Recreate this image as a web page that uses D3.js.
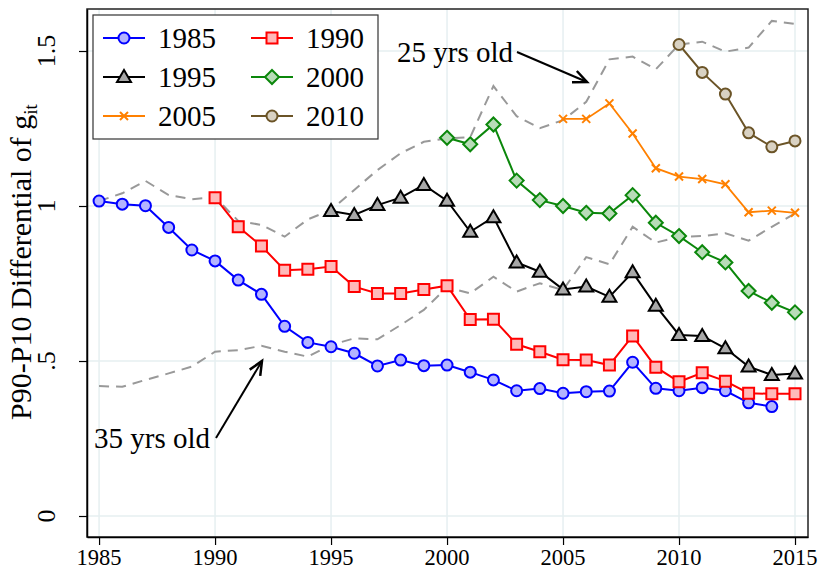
<!DOCTYPE html>
<html>
<head>
<meta charset="utf-8">
<script src="https://cdn.jsdelivr.net/npm/d3@7"></script>
<style>
  body { margin: 0; background: #fff; }
  text { font-family: "Liberation Serif", "Times New Roman", serif; fill: #000; }
</style>
</head>
<body>
<script>
var w = 828, h = 569;

// ---- data ----
var years = d3.range(1985, 2016);
var xTicks = [1985, 1990, 1995, 2000, 2005, 2010, 2015];
var yTicks = [0, 0.5, 1, 1.5];
var yTickLabels = ["0", ".5", "1", "1.5"];

var c1985 = [1.016,1.006,1.001,0.931,0.858,0.823,0.761,0.715,0.612,0.560,0.546,0.525,0.484,0.503,0.485,0.487,0.464,0.439,0.404,0.411,0.396,0.401,0.403,0.496,0.412,0.404,0.414,0.404,0.365,0.353];
var c1990 = [1.027,0.933,0.871,0.793,0.796,0.805,0.740,0.718,0.718,0.731,0.743,0.634,0.635,0.554,0.530,0.504,0.503,0.487,0.581,0.480,0.433,0.462,0.435,0.396,0.394,0.394];
var c1995 = [0.984,0.971,1.003,1.027,1.068,1.017,0.917,0.964,0.818,0.788,0.731,0.740,0.707,0.786,0.678,0.584,0.581,0.541,0.482,0.455,0.460];
var c2000 = [1.220,1.199,1.263,1.082,1.019,1.000,0.978,0.976,1.035,0.946,0.903,0.851,0.818,0.726,0.688,0.657];
var c2005 = [1.281,1.281,1.331,1.234,1.122,1.095,1.087,1.070,0.980,0.985,0.978];
var c2010 = [1.521,1.431,1.361,1.236,1.191,1.210];

var age25 = [1.016,1.041,1.081,1.035,1.022,1.028,0.952,0.939,0.901,0.957,0.987,1.052,1.116,1.170,1.207,1.218,1.222,1.387,1.290,1.251,1.277,1.336,1.473,1.482,1.441,1.521,1.530,1.498,1.511,1.597,1.587];
var age35 = [0.419,0.417,0.439,0.460,0.482,0.530,0.535,0.549,0.530,0.514,0.552,0.573,0.570,0.616,0.665,0.738,0.718,0.772,0.724,0.751,0.729,0.835,0.812,0.933,0.882,0.901,0.903,0.912,0.888,0.933,0.976];

var cohorts = [
  {name:"1985", start:1985, values:c1985, color:"#0000ff", fill:"#b4b4ff", shape:"circle"},
  {name:"1990", start:1990, values:c1990, color:"#ff0000", fill:"#ffb9b9", shape:"square"},
  {name:"1995", start:1995, values:c1995, color:"#000000", fill:"#a8a8a8", shape:"triangle"},
  {name:"2000", start:2000, values:c2000, color:"#0b870b", fill:"#b8dcb8", shape:"diamond"},
  {name:"2005", start:2005, values:c2005, color:"#ff8000", fill:"none", shape:"x"},
  {name:"2010", start:2010, values:c2010, color:"#6b5427", fill:"#d9d2c3", shape:"circle"}
];

// ---- setup ----
var svg = d3.select("body").append("svg").attr("width", w).attr("height", h);

var pL = 87, pR = 808, pT = 9, pB = 537;
var x = d3.scaleLinear().domain([1984.48, 2015.56]).range([pL, pR]);
var y = d3.scaleLinear().domain([-0.0677, 1.6355]).range([pB, pT]);

// grid
var grid = svg.append("g");
grid.selectAll(".gx").data(xTicks).enter().append("line")
  .attr("x1", function(d){ return x(d); }).attr("x2", function(d){ return x(d); })
  .attr("y1", pT).attr("y2", pB)
  .attr("stroke", "#e6eff1").attr("stroke-width", 1.5);
grid.selectAll(".gy").data(yTicks).enter().append("line")
  .attr("y1", function(d){ return y(d); }).attr("y2", function(d){ return y(d); })
  .attr("x1", pL).attr("x2", pR)
  .attr("stroke", "#e6eff1").attr("stroke-width", 1.5);

// frame
svg.append("rect").attr("x", pL).attr("y", pT)
  .attr("width", pR - pL).attr("height", pB - pT)
  .attr("fill", "none").attr("stroke", "#222").attr("stroke-width", 1.5);

// axes (ticks and lines from d3.axis, labels drawn separately)
var xAxis = d3.axisBottom(x).tickValues(xTicks).tickFormat("").tickSize(8).tickSizeOuter(0);
var gx = svg.append("g").attr("transform", "translate(0," + pB + ")").call(xAxis);
gx.select(".domain").attr("stroke", "#000").attr("stroke-width", 1.5);
gx.selectAll(".tick line").attr("stroke", "#000").attr("stroke-width", 1.2);

var yAxis = d3.axisLeft(y).tickValues(yTicks).tickFormat("").tickSize(8).tickSizeOuter(0);
var gy = svg.append("g").attr("transform", "translate(" + pL + ",0)").call(yAxis);
gy.select(".domain").attr("stroke", "#000").attr("stroke-width", 1.5);
gy.selectAll(".tick line").attr("stroke", "#000").attr("stroke-width", 1.2);

svg.selectAll("text.xl").data(xTicks).enter().append("text").attr("class", "xl")
  .attr("x", function(d){ return x(d); }).attr("y", 565)
  .attr("text-anchor", "middle")
  .attr("textLength", 45).attr("lengthAdjust", "spacingAndGlyphs")
  .style("font-size", "24px")
  .text(function(d){ return d; });

svg.selectAll("text.yl").data(yTicks).enter().append("text").attr("class", "yl")
  .attr("transform", function(d){ return "translate(55," + y(d) + ") rotate(-90)"; })
  .attr("text-anchor", "middle")
  .style("font-size", "26px")
  .text(function(d, i){ return yTickLabels[i]; });

// y title
var yt = svg.append("text")
  .attr("transform", "translate(31,262) rotate(-90)")
  .attr("text-anchor", "middle")
  .style("font-size", "30px");
yt.append("tspan").text("P90-P10 Differential of g");
yt.append("tspan").style("font-size", "19px").attr("dy", 6).text("it");

// age profiles (dashed gray)
var line = d3.line().x(function(d){ return x(d[0]); }).y(function(d){ return y(d[1]); });
[age25, age35].forEach(function(s){
  svg.append("path")
    .datum(s.map(function(v, i){ return [years[i], v]; }))
    .attr("d", line)
    .attr("fill", "none").attr("stroke", "#999").attr("stroke-width", 2)
    .attr("stroke-dasharray", "10,7");
});

// marker paths
var markerPath = function(shape){
  if (shape == "circle") return "M-5.5,0A5.5,5.5 0 1,0 5.5,0A5.5,5.5 0 1,0 -5.5,0Z";
  if (shape == "square") return "M-5.5,-5.5H5.5V5.5H-5.5Z";
  if (shape == "triangle") return "M0,-7L7,5H-7Z";
  if (shape == "diamond") return "M0,-7L7,0L0,7L-7,0Z";
  return "M-4,-4L4,4M-4,4L4,-4";
};

// cohort series
cohorts.forEach(function(c){
  var pts = c.values.map(function(v, i){ return [c.start + i, v]; });
  var g = svg.append("g");
  g.append("path").datum(pts).attr("d", line)
    .attr("fill", "none").attr("stroke", c.color).attr("stroke-width", c.shape == "x" ? 1.8 : 2);
  g.selectAll("path.m").data(pts).enter().append("path").attr("class", "m")
    .attr("transform", function(d){ return "translate(" + x(d[0]) + "," + y(d[1]) + ")"; })
    .attr("d", markerPath(c.shape))
    .attr("fill", c.fill).attr("stroke", c.color).attr("stroke-width", 2);
});

// legend
var lg = svg.append("g");
lg.append("rect").attr("x", 93).attr("y", 15).attr("width", 285).attr("height", 124)
  .attr("fill", "#fff").attr("stroke", "#333").attr("stroke-width", 1.2);
cohorts.forEach(function(c, i){
  var col = i % 2, row = Math.floor(i / 2);
  var lx = 103 + col * 148, ly = 38 + row * 39;
  lg.append("line").attr("x1", lx).attr("x2", lx + 42).attr("y1", ly).attr("y2", ly)
    .attr("stroke", c.color).attr("stroke-width", 2);
  lg.append("path").attr("transform", "translate(" + (lx + 21) + "," + ly + ")")
    .attr("d", markerPath(c.shape))
    .attr("fill", c.fill).attr("stroke", c.color).attr("stroke-width", 2);
  lg.append("text").attr("x", lx + 55).attr("y", ly + 10).style("font-size", "29px").text(c.name);
});

// annotations
var arrow = function(x1, y1, x2, y2){
  var a = Math.atan2(y2 - y1, x2 - x1), L = 15, s = 0.42;
  svg.append("line").attr("x1", x1).attr("y1", y1).attr("x2", x2).attr("y2", y2)
    .attr("stroke", "#000").attr("stroke-width", 2);
  svg.append("path")
    .attr("d", "M" + (x2 - L * Math.cos(a - s)) + "," + (y2 - L * Math.sin(a - s)) +
      "L" + x2 + "," + y2 +
      "L" + (x2 - L * Math.cos(a + s)) + "," + (y2 - L * Math.sin(a + s)))
    .attr("fill", "none").attr("stroke", "#000").attr("stroke-width", 2.5);
};
svg.append("text").attr("x", 397).attr("y", 62).style("font-size", "29px").text("25 yrs old");
arrow(517, 52, 587, 82);
svg.append("text").attr("x", 94).attr("y", 448).style("font-size", "29px").text("35 yrs old");
arrow(216, 438, 262, 361);
</script>
</body>
</html>
